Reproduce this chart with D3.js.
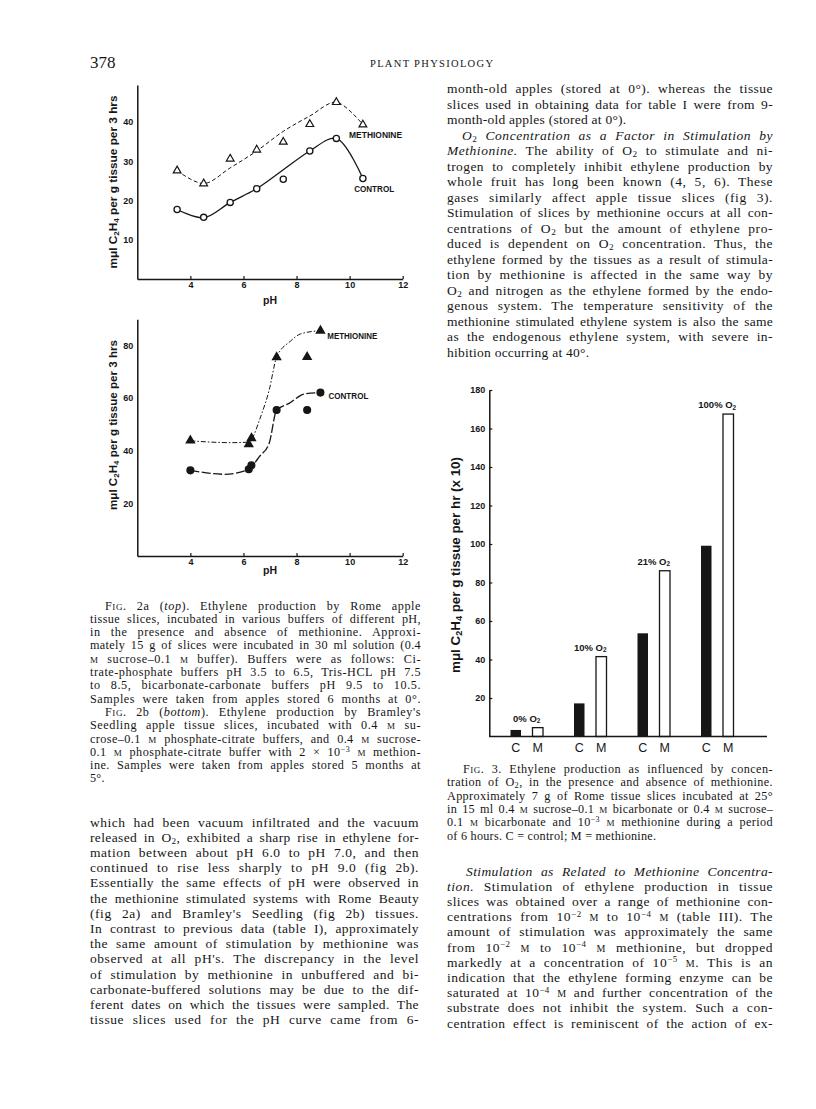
<!DOCTYPE html>
<html>
<head>
<meta charset="utf-8">
<title>Plant Physiology 378</title>
<style>
body { margin:0; background:#fff; }
svg text { fill:#161616; white-space:pre; }
</style>
</head>
<body>
<script src="https://cdn.jsdelivr.net/npm/d3@7"></script>
<script>

// ---- Fig 2a : Rome apple slices, pH series
var phA       = [3.5, 4.5, 5.5, 6.5, 7.5, 8.5, 9.5, 10.5];
var ctrlA     = [17.7, 15.7, 19.5, 23.0, 25.4, 32.6, 35.8, 25.6];
var methA     = [27.6, 24.3, 30.6, 32.9, 34.9, 39.4, 45.0, 39.3];
// the hand-drawn curves (do not pass through every point)
var ctrlCurveA = [17.7, 15.6, 19.5, 23.0, 27.8, 32.6, 35.8, 25.6];
var methCurveA = [27.6, 24.3, 28.3, 32.6, 37.6, 41.5, 45.0, 39.3];

// ---- Fig 2b : Bramley's Seedling slices
var phB       = [4.0, 6.2, 6.3, 7.25, 8.4, 8.9];
var ctrlB     = [32.5, 32.9, 34.4, 55.4, 55.4, 62.0];
var methB     = [43.8, 42.4, 44.7, 75.4, 75.5, 85.5];
var ctrlCurvePhB = [4.0, 5.3, 6.2, 6.35, 6.6, 6.97, 7.25, 7.7, 8.3, 8.9];
var ctrlCurveB   = [32.5, 31.0, 32.9, 34.4, 37.7, 42.8, 55.4, 57.8, 61.5, 62.0];
var methCurvePhB = [4.0, 5.5, 6.2, 6.35, 6.6, 6.97, 7.25, 7.77, 8.14, 8.9];
var methCurveB   = [43.7, 43.0, 43.2, 45.0, 51.5, 63.0, 75.4, 81.5, 84.2, 85.5];

var pHTicks = [4, 6, 8, 10, 12];
var yTicksA = [10, 20, 30, 40];
var yTicksB = [20, 40, 60, 80];

// ---- Fig 3 : O2 concentration
var o2Groups  = ["0%", "10%", "21%", "100%"];
var o2Control = [3.4, 17.2, 53.6, 99.1];
var o2Meth    = [4.6, 41.5, 86.1, 167.5];
var yTicks3   = [20, 40, 60, 80, 100, 120, 140, 160, 180];

var SANS = "'Liberation Sans', Arial, sans-serif";
var SERIF = "'Liberation Serif', 'DejaVu Serif', serif";
var INK = "#161616";

var svg = d3.select("body").append("svg")
    .attr("width", 816).attr("height", 1109)
    .style("font-family", SERIF);

// small markup: _{sub} ^{sup} *italic* ~smallcaps~
function richText(t, src, size) {
  var parts = src.split(/(_\{[^}]*\}|\^\{[^}]*\}|\*[^*]*\*|~[^~]*~)/).filter(function(s){ return s.length; });
  var shift = 0;
  parts.forEach(function(p) {
    var ts = t.append("tspan"), dy = 0;
    if (p.indexOf("_{") === 0) { ts.text(p.slice(2, -1)).attr("font-size", size * 0.68); dy = size * 0.18; }
    else if (p.indexOf("^{") === 0) { ts.text(p.slice(2, -1)).attr("font-size", size * 0.66); dy = -size * 0.33; }
    else if (p[0] === "*") { ts.text(p.slice(1, -1)).attr("font-style", "italic"); }
    else if (p[0] === "~") { ts.text(p.slice(1, -1)).attr("font-size", size * 0.74); }
    else ts.text(p);
    if (dy - shift !== 0) ts.attr("dy", dy - shift);
    shift = dy;
  });
  return t;
}

// block of printed lines; ">" = indent, "|" at end = ragged last line
// justified: a little letter spacing, the rest goes into the word gaps
function textBlock(b) {
  var g = svg.append("g").attr("font-size", b.size);
  b.lines.forEach(function(s, i) {
    var ind = s[0] === ">" ? b.indent : 0;
    if (ind) s = s.slice(1);
    var last = s[s.length - 1] === "|";
    if (last) s = s.slice(0, -1);
    var t = g.append("text").attr("x", b.x + ind).attr("y", b.y + i * b.step);
    richText(t, s, b.size);
    if (last) { t.attr("letter-spacing", 0.25); return; }
    var w = b.w - ind;
    var n = t.text().length;
    var free = w - t.node().getComputedTextLength();
    var ls = Math.max(0, Math.min(0.55, free * 0.45 / n));
    t.attr("letter-spacing", ls);
    var gaps = (t.text().match(/ /g) || []).length;
    free = w - t.node().getComputedTextLength();
    if (gaps) t.attr("word-spacing", free / gaps);
    else t.attr("textLength", w);
  });
}

// ---------- header
svg.append("text").attr("x", 90).attr("y", 68).attr("font-size", 17).text("378");
svg.append("text").attr("x", 370).attr("y", 67).attr("font-size", 10.5)
  .attr("textLength", 123).attr("lengthAdjust", "spacing").text("PLANT PHYSIOLOGY");

// ---------- text columns
textBlock({ x: 447, w: 326, y: 93, step: 15.5, size: 13.5, indent: 15, lines: [
  "month-old apples (stored at 0°). whereas the tissue",
  "slices used in obtaining data for table I were from 9-",
  "month-old apples (stored at 0°).|",
  ">*O*_{2}* Concentration as a Factor in Stimulation by*",
  "*Methionine.* The ability of O_{2} to stimulate and ni-",
  "trogen to completely inhibit ethylene production by",
  "whole fruit has long been known (4, 5, 6). These",
  "gases similarly affect apple tissue slices (fig 3).",
  "Stimulation of slices by methionine occurs at all con-",
  "centrations of O_{2} but the amount of ethylene pro-",
  "duced is dependent on O_{2} concentration. Thus, the",
  "ethylene formed by the tissues as a result of stimula-",
  "tion by methionine is affected in the same way by",
  "O_{2} and nitrogen as the ethylene formed by the endo-",
  "genous system. The temperature sensitivity of the",
  "methionine stimulated ethylene system is also the same",
  "as the endogenous ethylene system, with severe in-",
  "hibition occurring at 40°.|"
]});

textBlock({ x: 447, w: 326, y: 773, step: 13.3, size: 12.2, indent: 16, lines: [
  ">F~IG~. 3. Ethylene production as influenced by concen-",
  "tration of O_{2}, in the presence and absence of methionine.",
  "Approximately 7 g of Rome tissue slices incubated at 25°",
  "in 15 ml 0.4 ~M~ sucrose–0.1 ~M~ bicarbonate or 0.4 ~M~ sucrose–",
  "0.1 ~M~ bicarbonate and 10^{−3} ~M~ methionine during a period",
  "of 6 hours. C = control; M = methionine.|"
]});

textBlock({ x: 447, w: 326, y: 875.5, step: 15.2, size: 13.5, indent: 19, lines: [
  ">*Stimulation as Related to Methionine Concentra-*",
  "*tion.* Stimulation of ethylene production in tissue",
  "slices was obtained over a range of methionine con-",
  "centrations from 10^{−2} ~M~ to 10^{−4} ~M~ (table III). The",
  "amount of stimulation was approximately the same",
  "from 10^{−2} ~M~ to 10^{−4} ~M~ methionine, but dropped",
  "markedly at a concentration of 10^{−5} ~M~. This is an",
  "indication that the ethylene forming enzyme can be",
  "saturated at 10^{−4} ~M~ and further concentration of the",
  "substrate does not inhibit the system. Such a con-",
  "centration effect is reminiscent of the action of ex-"
]});

textBlock({ x: 90, w: 331, y: 609.5, step: 13.3, size: 12.2, indent: 15, lines: [
  ">F~IG~. 2a (*top*). Ethylene production by Rome apple",
  "tissue slices, incubated in various buffers of different pH,",
  "in the presence and absence of methionine. Approxi-",
  "mately 15 g of slices were incubated in 30 ml solution (0.4",
  "~M~ sucrose–0.1 ~M~ buffer). Buffers were as follows: Ci-",
  "trate-phosphate buffers pH 3.5 to 6.5, Tris-HCL pH 7.5",
  "to 8.5, bicarbonate-carbonate buffers pH 9.5 to 10.5.",
  "Samples were taken from apples stored 6 months at 0°.",
  ">F~IG~. 2b (*bottom*). Ethylene production by Bramley's",
  "Seedling apple tissue slices, incubated with 0.4 ~M~ su-",
  "crose–0.1 ~M~ phosphate-citrate buffers, and 0.4 ~M~ sucrose-",
  "0.1 ~M~ phosphate-citrate buffer with 2 × 10^{−3} ~M~ methion-",
  "ine. Samples were taken from apples stored 5 months at",
  "5°.|"
]});

textBlock({ x: 90, w: 329, y: 826.5, step: 15.2, size: 13.5, indent: 15, lines: [
  "which had been vacuum infiltrated and the vacuum",
  "released in O_{2}, exhibited a sharp rise in ethylene for-",
  "mation between about pH 6.0 to pH 7.0, and then",
  "continued to rise less sharply to pH 9.0 (fig 2b).",
  "Essentially the same effects of pH were observed in",
  "the methionine stimulated systems with Rome Beauty",
  "(fig 2a) and Bramley's Seedling (fig 2b) tissues.",
  "In contrast to previous data (table I), approximately",
  "the same amount of stimulation by methionine was",
  "observed at all pH's. The discrepancy in the level",
  "of stimulation by methionine in unbuffered and bi-",
  "carbonate-buffered solutions may be due to the dif-",
  "ferent dates on which the tissues were sampled. The",
  "tissue slices used for the pH curve came from 6-"
]});

// ---------- chart helpers
function styleAxis(a, fs) {
  a.select(".domain").attr("stroke", INK).attr("stroke-width", 1.5);
  a.selectAll(".tick line").attr("stroke", INK).attr("stroke-width", 1.2);
  a.selectAll(".tick text").attr("font-family", SANS).attr("font-size", fs || 9)
    .attr("font-weight", "bold").attr("fill", INK);
}

function yLabel(cx, cy, len, fs, src) {
  var t = svg.append("text")
    .attr("transform", "translate(" + cx + "," + cy + ") rotate(-90)")
    .attr("text-anchor", "middle").attr("font-family", SANS).attr("font-size", fs)
    .attr("font-weight", "bold");
  richText(t, src, fs);
  t.attr("textLength", len).attr("lengthAdjust", "spacingAndGlyphs");
}

function phPanel(o) {
  var g = svg.append("g");
  var x = d3.scaleLinear().domain([2, 12]).range([137.3, 402.7]);
  var y = d3.scaleLinear().domain([0, o.ymax]).range([o.y0, o.y1]);

  g.append("g").attr("transform", "translate(0," + o.y0 + ")")
    .call(d3.axisBottom(x).tickValues(pHTicks).tickSizeInner(-3).tickSizeOuter(0).tickPadding(3))
    .call(styleAxis);
  g.append("g").attr("transform", "translate(137.3,0)")
    .call(d3.axisLeft(y).tickValues(o.yticks).tickSizeInner(0).tickSizeOuter(0).tickPadding(4))
    .call(styleAxis);

  g.append("text").attr("x", x(7)).attr("y", o.y0 + o.phGap).attr("text-anchor", "middle")
    .attr("font-family", SANS).attr("font-weight", "bold").attr("font-size", 10.5).text("pH");

  var line = d3.line().x(function(d){ return x(d[0]); }).y(function(d){ return y(d[1]); }).curve(o.curve);
  g.append("path").datum(d3.zip(o.methPh, o.methCurve)).attr("d", line)
    .attr("fill", "none").attr("stroke", INK).attr("stroke-width", 1).attr("stroke-dasharray", o.methDash);
  g.append("path").datum(d3.zip(o.ctrlPh, o.ctrlCurve)).attr("d", line)
    .attr("fill", "none").attr("stroke", INK).attr("stroke-width", 1.3).attr("stroke-dasharray", o.ctrlDash);

  var tri = d3.symbol().type(d3.symbolTriangle).size(o.triSize);
  g.selectAll(".m").data(d3.zip(o.ph, o.meth)).enter().append("path")
    .attr("transform", function(d){ return "translate(" + x(d[0]) + "," + y(d[1]) + ")"; })
    .attr("d", tri).attr("fill", o.filled ? INK : "#fff").attr("stroke", INK).attr("stroke-width", 1.2);
  g.selectAll(".c").data(d3.zip(o.ph, o.ctrl)).enter().append("circle")
    .attr("cx", function(d){ return x(d[0]); }).attr("cy", function(d){ return y(d[1]); })
    .attr("r", o.filled ? 3.4 : 3.1)
    .attr("fill", o.filled ? INK : "#fff").attr("stroke", INK).attr("stroke-width", 1.3);

  o.labels.forEach(function(l) {
    g.append("text").attr("x", x(l[1])).attr("y", y(l[2]))
      .attr("font-family", SANS).attr("font-weight", "bold").attr("font-size", 8.5)
      .attr("textLength", l[3]).attr("lengthAdjust", "spacingAndGlyphs").text(l[0]);
  });

  yLabel(117, o.labelY, o.labelLen, 11.5, "mμl C_{2}H_{4} per g tissue per 3 hrs");
}

phPanel({ y0: 279, y1: 85, ymax: 49.4, yticks: yTicksA, phGap: 25,
  ph: phA, ctrl: ctrlA, meth: methA,
  ctrlPh: phA, ctrlCurve: ctrlCurveA, methPh: phA, methCurve: methCurveA,
  curve: d3.curveCatmullRom.alpha(0.5), methDash: "4,2.5", ctrlDash: null,
  triSize: 26, filled: false, labelY: 182, labelLen: 173,
  labels: [["METHIONINE", 9.98, 35.9, 53], ["CONTROL", 10.17, 22.2, 40]] });

phPanel({ y0: 556, y1: 319.3, ymax: 89.8, yticks: yTicksB, phGap: 18,
  ph: phB, ctrl: ctrlB, meth: methB,
  ctrlPh: ctrlCurvePhB, ctrlCurve: ctrlCurveB, methPh: methCurvePhB, methCurve: methCurveB,
  curve: d3.curveMonotoneX, methDash: "5,2,1.5,2", ctrlDash: "9,2.5",
  triSize: 30, filled: true, labelY: 425, labelLen: 170,
  labels: [["METHIONINE", 9.16, 82.3, 50], ["CONTROL", 9.2, 59.5, 40]] });

// ---------- Fig 3 bars
(function() {
  var g = svg.append("g");
  var y = d3.scaleLinear().domain([0, 180]).range([736.5, 390]);
  var x = d3.scaleBand().domain(o2Groups).range([495, 749]);
  var bw = 10.5, off = 11;
  var rows = o2Groups.map(function(k, i){ return { k: k, c: o2Control[i], m: o2Meth[i] }; });

  var grp = g.selectAll(".grp").data(rows).enter().append("g")
    .attr("transform", function(d){ return "translate(" + x(d.k) + ",0)"; });
  var cx = x.bandwidth() / 2;

  grp.append("rect").attr("x", cx - off - bw / 2).attr("width", bw)
    .attr("y", function(d){ return y(d.c); }).attr("height", function(d){ return y(0) - y(d.c); })
    .attr("fill", INK);
  grp.append("rect").attr("x", cx + off - bw / 2).attr("width", bw)
    .attr("y", function(d){ return y(d.m); }).attr("height", function(d){ return y(0) - y(d.m); })
    .attr("fill", "#fff").attr("stroke", INK).attr("stroke-width", 1.3);

  grp.each(function(d) {
    var t = d3.select(this).append("text").attr("x", cx).attr("y", y(d.m) - 6)
      .attr("text-anchor", "middle").attr("font-family", SANS).attr("font-size", 9.5).attr("font-weight", "bold");
    richText(t, d.k + " O_{2}", 9.5);
  });
  ["C", "M"].forEach(function(s, j) {
    grp.append("text").attr("x", cx + (j ? off : -off)).attr("y", 751.5).attr("text-anchor", "middle")
      .attr("font-family", SANS).attr("font-size", 12.5).text(s);
  });

  g.append("line").attr("x1", 489.3).attr("x2", 767).attr("y1", y(0)).attr("y2", y(0))
    .attr("stroke", INK).attr("stroke-width", 1.5);
  g.append("g").attr("transform", "translate(489.3,0)")
    .call(d3.axisLeft(y).tickValues(yTicks3).tickSizeInner(-3).tickSizeOuter(0).tickPadding(4))
    .call(styleAxis);

  yLabel(459.5, 565, 216, 12.5, "mμl C_{2}H_{4} per g tissue per hr (x 10)");
})();

</script>
</body>
</html>
